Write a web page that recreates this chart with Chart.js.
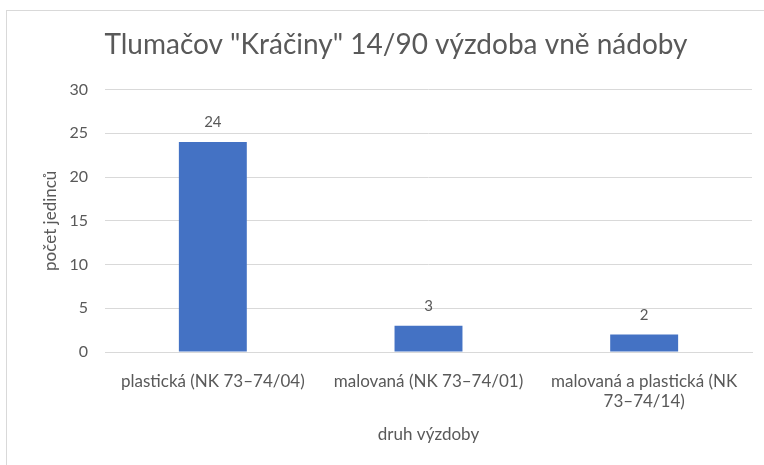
<!DOCTYPE html>
<html>
<head>
<meta charset="utf-8">
<script src="https://cdn.jsdelivr.net/npm/chart.js@4"></script>
<style>
  body { margin: 0; background: #fff; }
  #box { position: absolute; left: 6px; top: 10px; width: 757px; height: 454px; border: 1px solid #d9d9d9; border-right: none; border-bottom: none; }
  canvas { display: block; }
</style>
</head>
<body>
<div id="box"><canvas id="chart" width="757" height="454"></canvas></div>
<script>
// data
const categories = [
  "plastická (NK 73–74/04)",
  "malovaná (NK 73–74/01)",
  ["malovaná a plastická (NK", "73–74/14)"]
];
const counts = [24, 3, 2];
const yTicks = [0, 5, 10, 15, 20, 25, 30];

const GRAY = "#595959";
const FONT = "Lato, 'Liberation Sans', sans-serif";

// simple value labels above each bar
const valueLabels = {
  id: "valueLabels",
  afterDatasetsDraw(chart) {
    const ctx = chart.ctx;
    const meta = chart.getDatasetMeta(0);
    ctx.save();
    ctx.fillStyle = GRAY;
    ctx.font = "15px " + FONT;
    ctx.textAlign = "center";
    ctx.textBaseline = "bottom";
    meta.data.forEach((bar, i) => {
      ctx.fillText(counts[i], bar.x, bar.y - 12);
    });
    ctx.restore();
  }
};

new Chart(document.getElementById("chart"), {
  type: "bar",
  data: {
    labels: categories,
    datasets: [{
      data: counts,
      backgroundColor: "#4472c4",
      categoryPercentage: 1,
      barPercentage: 0.315
    }]
  },
  options: {
    responsive: false,
    animation: false,
    layout: { padding: { left: 33, right: 12, top: 0, bottom: 20 } },
    plugins: {
      legend: { display: false },
      tooltip: { enabled: false },
      title: {
        display: true,
        text: 'Tlumačov "Kráčiny" 14/90 výzdoba vně nádoby',
        color: GRAY,
        font: { family: FONT, size: 28, weight: "normal" },
        padding: { top: 17, bottom: 28 }
      }
    },
    scales: {
      x: {
        grid: { display: false, drawTicks: false },
        border: { color: "#d9d9d9" },
        ticks: { color: GRAY, font: { family: FONT, size: 17 }, maxRotation: 0, autoSkip: false, padding: 19 },
        title: { display: true, text: "druh výzdoby", color: GRAY, font: { family: FONT, size: 17 }, padding: { top: 0, bottom: 0 } },
        afterFit(scale) { scale.height = 93; }
      },
      y: {
        min: 0,
        max: 30,
        afterBuildTicks(scale) { scale.ticks = yTicks.map(v => ({ value: v })); },
        grid: { color: "#d9d9d9", drawTicks: false },
        border: { display: false },
        ticks: { color: GRAY, font: { family: FONT, size: 16 }, padding: 17 },
        title: { display: true, text: "počet jedinců", color: GRAY, font: { family: FONT, size: 17 }, padding: { top: 0, bottom: 0 } },
        afterFit(scale) { scale.width = 65; }
      }
    }
  },
  plugins: [valueLabels]
});
</script>
</body>
</html>
